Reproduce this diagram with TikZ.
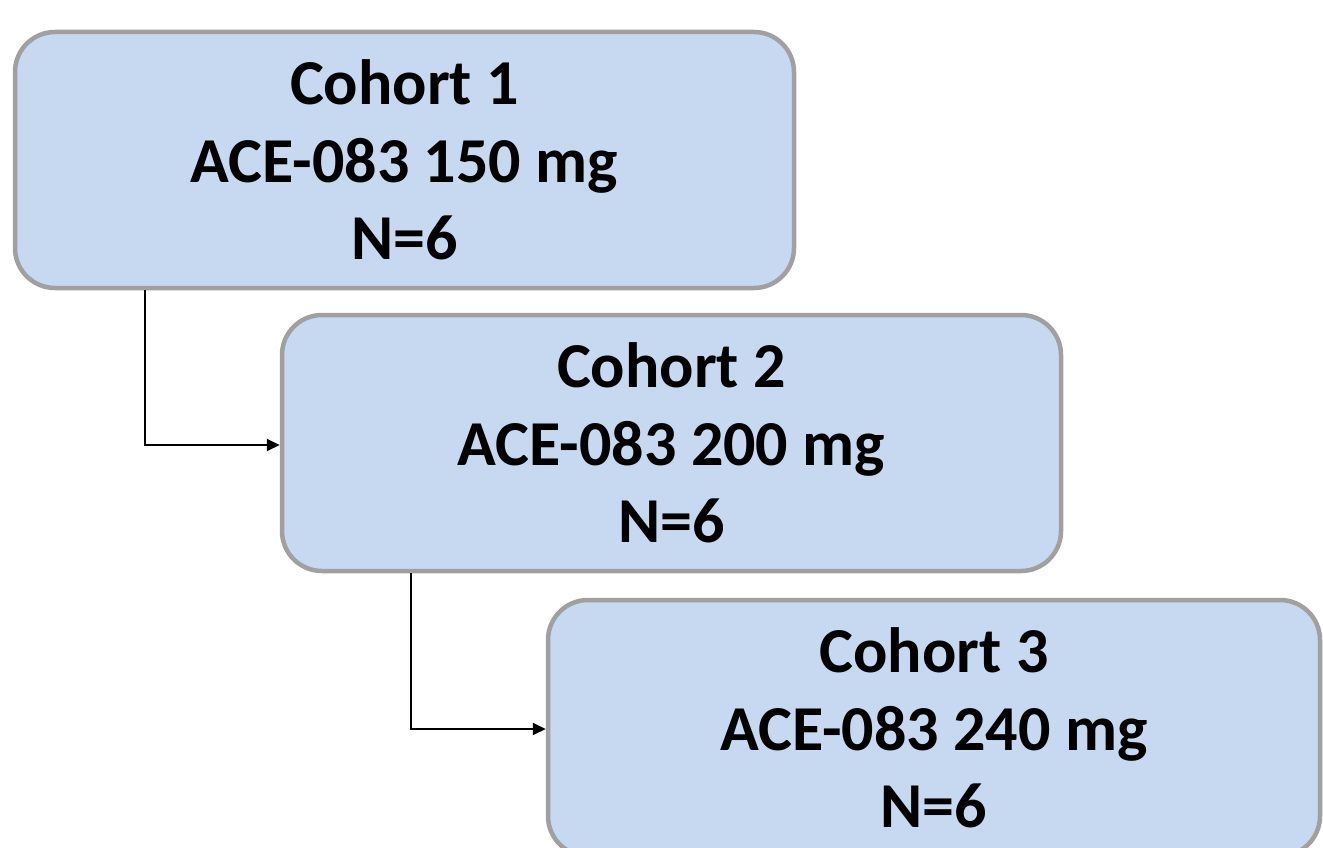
\documentclass[tikz,border=0pt]{standalone}
\usepackage{fontspec}
\setmainfont{Carlito}
\usetikzlibrary{arrows.meta}
\definecolor{cohortfill}{HTML}{C6D9F0}
\definecolor{cohortline}{HTML}{A0A0A0}

\begin{document}
\begin{tikzpicture}[x=1pt, y=-1pt, >={Triangle[length=13pt, width=12pt]},
	cohortbox/.style={draw=cohortline, fill=cohortfill, line width=4.5pt, rounded corners=40pt,
		minimum width=779pt, minimum height=256pt, align=center, inner sep=0pt,
		font=\fontsize{64}{77.5}\selectfont\bfseries},
	link/.style={->, line width=2pt, black}]
	\useasboundingbox (0,0) rectangle (1323,848);
	\node[cohortbox] (c1) at (404.5,160) {Cohort 1\\ACE-083 150 mg\\N=6};
	\node[cohortbox] (c2) at (671.5,443) {Cohort 2\\ACE-083 200 mg\\N=6};
	\node[cohortbox, minimum width=772pt] (c3) at (934,728) {Cohort 3\\ACE-083 240 mg\\N=6};
	\draw[link] ([xshift=132pt]c1.south west) |- ([yshift=-2pt]c2.west);
	\draw[link] ([xshift=131pt]c2.south west) |- ([yshift=-1pt]c3.west);
\end{tikzpicture}
\end{document}
